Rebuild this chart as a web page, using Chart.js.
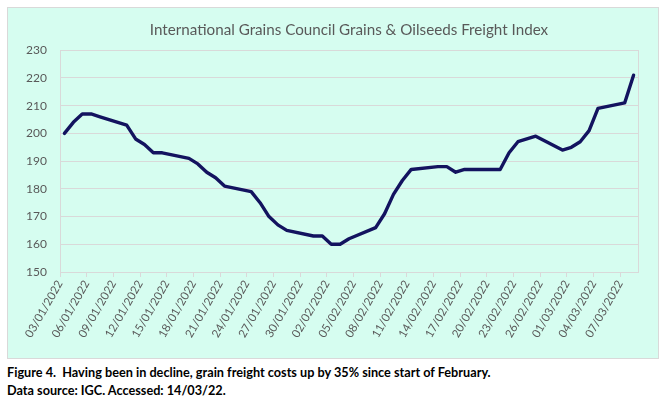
<!DOCTYPE html>
<html>
<head>
<meta charset="utf-8">
<script src="https://cdn.jsdelivr.net/npm/chart.js@4.4.1/dist/chart.umd.min.js"></script>
<style>
  body { margin: 0; background: #ffffff; font-family: Lato, "Open Sans", sans-serif; }
  #box {
    position: absolute; left: 7px; top: 7px;
    width: 650px; height: 350px;
    background: #d6fdf0; border: 1px solid #d9d9d9;
  }
  .caption {
    position: absolute; left: 7px;
    font-weight: bold; font-size: 12.7px; color: #000;
    white-space: pre;
  }
</style>
</head>
<body>
<div id="box"><canvas id="chart" width="650" height="350"></canvas></div>
<div class="caption" style="top:364px">Figure 4.  Having been in decline, grain freight costs up by 35% since start of February.</div>
<div class="caption" style="top:382px">Data source: IGC. Accessed: 14/03/22.</div>
<script>
// trading days (dd/mm/yyyy) and index values
const dates = [
  "03/01/2022", "04/01/2022", "05/01/2022", "06/01/2022", "07/01/2022",
  "10/01/2022", "11/01/2022", "12/01/2022", "13/01/2022", "14/01/2022",
  "17/01/2022", "18/01/2022", "19/01/2022", "20/01/2022", "21/01/2022",
  "24/01/2022", "25/01/2022", "26/01/2022", "27/01/2022", "28/01/2022",
  "31/01/2022", "01/02/2022", "02/02/2022", "03/02/2022", "04/02/2022",
  "07/02/2022", "08/02/2022", "09/02/2022", "10/02/2022", "11/02/2022",
  "14/02/2022", "15/02/2022", "16/02/2022", "17/02/2022", "18/02/2022",
  "21/02/2022", "22/02/2022", "23/02/2022", "24/02/2022", "25/02/2022",
  "28/02/2022", "01/03/2022", "02/03/2022", "03/03/2022", "04/03/2022",
  "07/03/2022", "08/03/2022"
];
const freightIndex = [
  200, 204, 207, 207, 206,
  203, 198, 196, 193, 193,
  191, 189, 186, 184, 181,
  179, 175, 170, 167, 165,
  163, 163, 160, 160, 162,
  166, 171, 178, 183, 187,
  188, 188, 186, 187, 187,
  187, 193, 197, 198, 199,
  194, 195, 197, 201, 209,
  211, 221
];
const tickLabels = [
  "03/01/2022", "06/01/2022", "09/01/2022", "12/01/2022", "15/01/2022",
  "18/01/2022", "21/01/2022", "24/01/2022", "27/01/2022", "30/01/2022",
  "02/02/2022", "05/02/2022", "08/02/2022", "11/02/2022", "14/02/2022",
  "17/02/2022", "20/02/2022", "23/02/2022", "26/02/2022", "01/03/2022",
  "04/03/2022", "07/03/2022"
];
const axisDays = 65; // 03/01 .. 08/03

function dayNumber(s) {
  const [d, m, y] = s.split("/").map(Number);
  return Date.UTC(y, m - 1, d) / 86400000;
}
const day0 = dayNumber(dates[0]);
// points sit in the middle of their day, like an Excel date axis
const points = dates.map((s, i) => ({ x: dayNumber(s) - day0 + 0.5, y: freightIndex[i] }));

const plotBorder = {
  id: "plotBorder",
  afterLayout(chart) {
    // centre the title over the plot area, as Excel does
    chart.titleBlock.left = chart.chartArea.left;
    chart.titleBlock.right = chart.chartArea.right;
  },
  afterDraw(chart) {
    const { ctx, chartArea: a } = chart;
    ctx.save();
    ctx.strokeStyle = "#d9d9d9";
    ctx.lineWidth = 1;
    ctx.strokeRect(Math.round(a.left) + 0.5, Math.round(a.top) + 0.5,
      Math.round(a.right - a.left), Math.round(a.bottom - a.top));
    ctx.restore();
  }
};

const ctx = document.getElementById("chart");
new Chart(ctx, {
  type: "line",
  data: {
    datasets: [
      {
        label: "IGC Grains & Oilseeds Freight Index",
        data: points,
        borderColor: "#13135f",
        borderWidth: 3.4,
        borderJoinStyle: "round",
        borderCapStyle: "round",
        pointRadius: 0,
        fill: false,
        tension: 0,
      },
    ],
  },
  options: {
    responsive: false,
    animation: false,
    layout: { padding: { left: 0, right: 20, top: 0, bottom: 0 } },
    plugins: {
      legend: { display: false },
      tooltip: { enabled: false },
      title: {
        display: true,
        text: "International Grains Council Grains & Oilseeds Freight Index",
        color: "#595959",
        font: { family: "Lato", size: 15.2, weight: "normal" },
        padding: { top: 13, bottom: 11 },
      },
    },
    scales: {
      x: {
        type: "linear",
        min: 0,
        max: axisDays,
        afterBuildTicks: (scale) => {
          scale.ticks = tickLabels.map((t, i) => ({ value: i * 3 }));
        },
        afterFit: (scale) => { scale.height = 86; },
        ticks: {
          autoSkip: false,
          minRotation: 60,
          maxRotation: 60,
          padding: 1,
          color: "#595959",
          font: { family: "Lato", size: 11.5 },
          callback: (v) => tickLabels[Math.round(v / 3)],
        },
        grid: { drawOnChartArea: false, drawTicks: true, tickLength: 5, color: "#d9d9d9" },
        border: { display: true, color: "#d9d9d9" },
      },
      y: {
        min: 150,
        max: 230,
        afterFit: (scale) => { scale.width = 52; },
        ticks: {
          stepSize: 10,
          padding: 13,
          color: "#595959",
          font: { family: "Lato", size: 12 },
        },
        grid: { color: "#d9d9d9", drawTicks: false },
        border: { display: false },
      },
    },
  },
  plugins: [plotBorder],
});
</script>
</body>
</html>
